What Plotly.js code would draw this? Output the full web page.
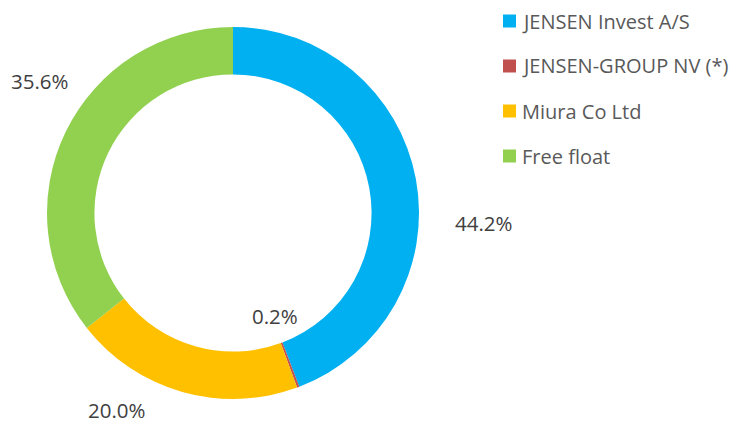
<!DOCTYPE html>
<html><head><meta charset="utf-8">
<script src="https://cdn.plot.ly/plotly-3.0.1.min.js"></script>
<style>html,body{margin:0;padding:0;background:#fff}#c{width:744px;height:425px}</style>
</head><body><div id="c"></div>
<script>
const labels = ["JENSEN Invest A/S", "JENSEN-GROUP NV (*)", "Miura Co Ltd", "Free float"];
const values = [44.2, 0.2, 20.0, 35.6];
const valueLabels = ["44.2%", "0.2%", "20.0%", "35.6%"];
const colors = ["#00B0F0", "#C0504D", "#FFC000", "#92D050"];

const W = 744, H = 425;
const px = x => x / W, py = y => 1 - y / H;
const cx = 233, cy = 213, R = 186;

// label anchor positions (layout)
const labelPos = [[484, 223], [275, 316], [117, 413], [40, 81]];
const legendY = [21, 66, 111, 156];
const FONT = "Open Sans, sans-serif";

const annotations = [];
const shapes = [];
valueLabels.forEach((t, i) => {
  const a = {xref: 'paper', yref: 'paper', x: px(labelPos[i][0]), y: py(labelPos[i][1]),
    text: t, showarrow: false, xanchor: 'center', yanchor: 'middle', borderpad: 0,
    font: {family: FONT, size: 20.5, color: '#404040'}};
  if (labelPos[i][1] > 400) { a.y = 0; a.yanchor = 'bottom'; }
  annotations.push(a);
});
labels.forEach((t, i) => {
  shapes.push({type: 'rect', xref: 'paper', yref: 'paper', x0: px(503), x1: px(516),
    y0: py(legendY[i] - 6.5), y1: py(legendY[i] + 6.5), fillcolor: colors[i], line: {width: 0}});
  annotations.push({xref: 'paper', yref: 'paper', x: px(520), y: py(legendY[i]),
    text: t, showarrow: false, xanchor: 'left', yanchor: 'middle',
    font: {family: FONT, size: 20, color: '#595959'}});
});

const data = [{
  type: 'pie', labels: labels, values: values, sort: false, direction: 'clockwise', rotation: 0,
  hole: 0.745, textinfo: 'none', hoverinfo: 'label+percent',
  marker: {colors: colors, line: {width: 0}},
  domain: {x: [px(cx - R), px(cx + R)], y: [py(cy + R), py(cy - R)]}
}];
const layout = {width: W, height: H, margin: {l: 0, r: 0, t: 0, b: 0}, showlegend: false,
  paper_bgcolor: '#fff', annotations: annotations, shapes: shapes};
Plotly.newPlot('c', data, layout, {displayModeBar: false, staticPlot: true});
</script></body></html>
